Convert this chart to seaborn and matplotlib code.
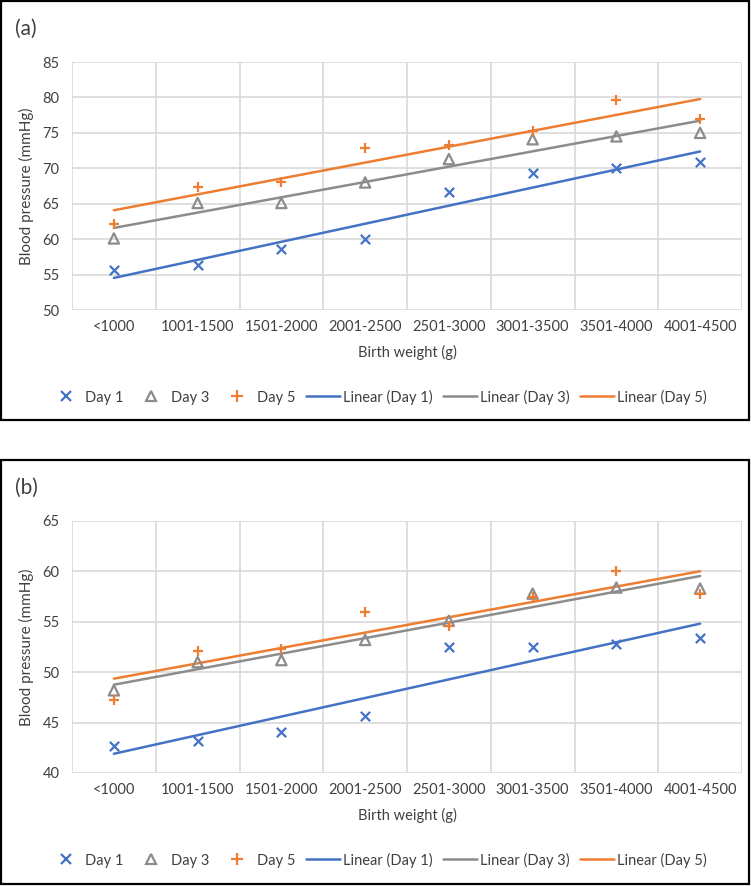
import numpy as np
import matplotlib
matplotlib.use('Agg')
import matplotlib.pyplot as plt
from matplotlib.patches import Rectangle
from matplotlib.lines import Line2D
import seaborn as sns

# === DATA ===
kategori = ['<1000', '1001-1500', '1501-2000', '2001-2500', '2501-3000', '3001-3500', '3501-4000', '4001-4500']

a_day1 = [55.6, 56.4, 58.6, 60.0, 66.7, 69.4, 70.0, 70.9]
a_day3 = [60.1, 65.1, 65.1, 68.0, 71.3, 74.1, 74.5, 75.0]
a_day5 = [62.1, 67.3, 68.0, 72.8, 73.3, 75.2, 79.7, 77.0]

b_day1 = [42.7, 43.2, 44.1, 45.7, 52.5, 52.5, 52.8, 53.4]
b_day3 = [48.2, 51.0, 51.2, 53.2, 55.1, 57.8, 58.4, 58.3]
b_day5 = [47.2, 52.1, 52.3, 56.0, 54.6, 57.5, 60.0, 57.8]

a_yticks = [50, 55, 60, 65, 70, 75, 80, 85]
b_yticks = [40, 45, 50, 55, 60, 65]

sns.set_style('white')
plt.rcParams['font.family'] = ['Lato', 'DejaVu Sans']

BIRU, ABU, ORANYE = '#4472C4', '#8C8C8C', '#ED7D31'
TEKS = '#404040'
W, H = 751, 886

fig = plt.figure(figsize=(W / 100, H / 100), dpi=100)


def panel(rect, hari1, hari3, hari5, yticks, huruf, box, leg_y):
    ax = fig.add_axes(rect)
    x = np.arange(len(kategori))
    # trendlines
    for vals, c in [(hari1, BIRU), (hari3, ABU), (hari5, ORANYE)]:
        sns.regplot(x=x, y=vals, ax=ax, scatter=False, ci=None, truncate=True,
                    line_kws={'color': c, 'lw': 1.8, 'zorder': 2})
    sns.scatterplot(x=x, y=hari1, ax=ax, marker='x', color=BIRU, s=45, linewidth=1.6, zorder=3)
    sns.scatterplot(x=x, y=hari3, ax=ax, marker='^', facecolor='none', edgecolor=ABU, s=55, linewidth=1.6, zorder=3)
    sns.scatterplot(x=x, y=hari5, ax=ax, marker='+', color=ORANYE, s=60, linewidth=1.6, zorder=4)

    ax.set_xlim(-0.5, len(kategori) - 0.5)
    ax.set_ylim(yticks[0], yticks[-1])
    ax.set_yticks(yticks)
    ax.set_xticks(x)
    ax.set_xticklabels(kategori)
    ax.set_xticks(np.arange(-0.5, len(kategori)), minor=True)
    ax.grid(False)
    ax.grid(True, which='minor', axis='x', color='#D9D9D9', lw=1.2)
    ax.grid(True, which='major', axis='y', color='#D9D9D9', lw=1.2)
    ax.set_axisbelow(True)
    for s in ax.spines.values():
        s.set_visible(False)
    ax.tick_params(which='both', length=0)
    ax.tick_params(axis='y', pad=9, labelsize=10.5, labelcolor=TEKS)
    ax.tick_params(axis='x', pad=7, labelsize=10.5, labelcolor=TEKS)
    ax.set_xlabel('Birth weight (g)', fontsize=10.5, color=TEKS)
    ax.set_ylabel('Blood pressure (mmHg)', fontsize=11, color=TEKS)
    ax.xaxis.set_label_coords(0.5, -0.14)
    ax.yaxis.set_label_coords(-0.057, 0.5)

    # panel frame and letter
    x0, y0, x1, y1 = box
    fig.patches.append(Rectangle((x0 / W, 1 - y1 / H), (x1 - x0) / W, (y1 - y0) / H,
                                 transform=fig.transFigure, fill=False, ec='black', lw=1.6))
    fig.text(15 / W, 1 - (y0 + 28) / H, huruf, fontsize=15, color=TEKS, va='center', ha='left')

    handles = [
        Line2D([], [], ls='none', marker='x', color=BIRU, ms=7, mew=1.6),
        Line2D([], [], ls='none', marker='^', mfc='none', mec=ABU, ms=7.5, mew=1.6),
        Line2D([], [], ls='none', marker='+', color=ORANYE, ms=8, mew=1.6),
        Line2D([], [], color=BIRU, lw=1.8),
        Line2D([], [], color=ABU, lw=1.8),
        Line2D([], [], color=ORANYE, lw=1.8),
    ]
    labels = ['Day 1', 'Day 3', 'Day 5', 'Linear (Day 1)', 'Linear (Day 3)', 'Linear (Day 5)']
    fig.legend(handles, labels, loc='center', bbox_to_anchor=(0.503, 1 - leg_y / H), ncol=6,
               frameon=False, fontsize=10.5, handlelength=2.3, handletextpad=0.2,
               columnspacing=0.75, labelcolor=TEKS)
    return ax


panel([72 / W, 1 - 310 / H, 670 / W, 248 / H], a_day1, a_day3, a_day5, a_yticks, '(a)',
      (1, 1, 749, 420), 397)
panel([72 / W, 1 - 773 / H, 670 / W, 252 / H], b_day1, b_day3, b_day5, b_yticks, '(b)',
      (1, 460, 749, 884), 860)

plt.savefig('out.png', dpi=100)
